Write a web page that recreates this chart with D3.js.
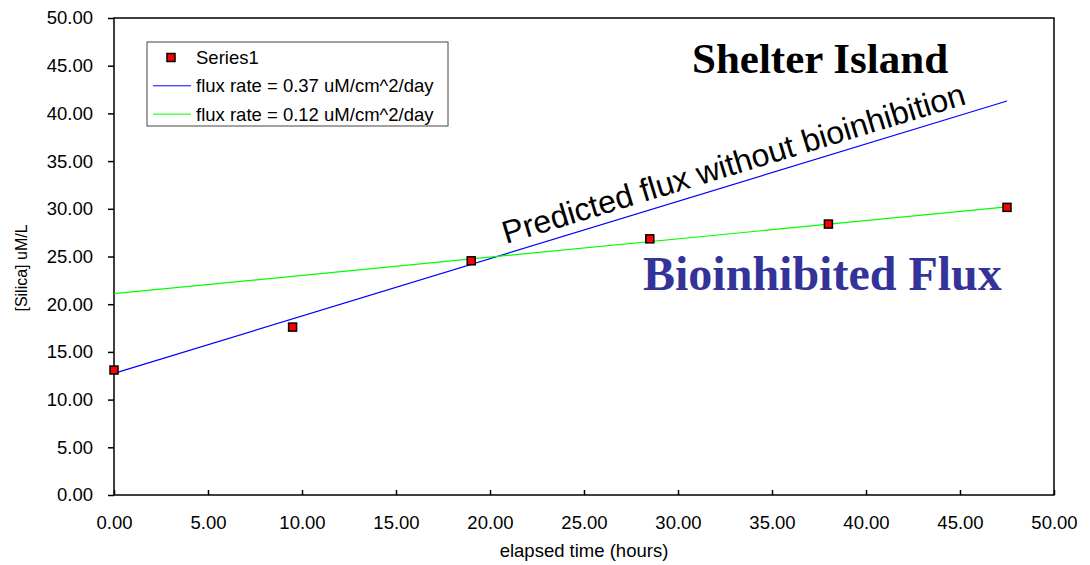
<!DOCTYPE html>
<html lang="en">
  <head>
    <meta charset="UTF-8" />
    <title>Shelter Island silica flux</title>
    <script src="https://d3js.org/d3.v7.min.js"></script>
    <style>
      body {
        margin: 0;
        padding: 0;
        background: #fff;
      }
      svg {
        display: block;
        font-family: "Liberation Sans", Arial, sans-serif;
      }
      .tick text {
        font-size: 18.5px;
        fill: #000;
      }
      .tick line {
        stroke: #000;
        stroke-width: 1.5;
      }
    </style>
  </head>
  <body>
    <svg width="1090" height="565"></svg>
    <script>
      // measured points (elapsed hours, silica uM/L)
      const hours = [0, 9.5, 19, 28.5, 38, 47.5];
      const silica = [13.1, 17.6, 24.55, 26.85, 28.4, 30.15];

      // fitted lines, end points
      const predictedLine = [
        [0, 12.75],
        [47.5, 41.3],
      ];
      const inhibitedLine = [
        [0, 21.1],
        [47.5, 30.2],
      ];

      const xTicks = [0, 5, 10, 15, 20, 25, 30, 35, 40, 45, 50];
      const yTicks = [0, 5, 10, 15, 20, 25, 30, 35, 40, 45, 50];

      const legendItems = [
        { label: "Series1", type: "marker", color: "red" },
        { label: "flux rate = 0.37 uM/cm^2/day", type: "line", color: "#0000ff" },
        { label: "flux rate = 0.12 uM/cm^2/day", type: "line", color: "#00ff00" },
      ];

      const svg = d3.select("svg");
      const plotLeft = 114,
        plotRight = 1054,
        plotTop = 18,
        plotBottom = 495;

      const x = d3.scaleLinear().domain([0, 50]).range([plotLeft, plotRight]);
      const y = d3.scaleLinear().domain([0, 50]).range([plotBottom, plotTop]);
      const fmt = d3.format(".2f");

      // y axis, ticks outside
      const yAxis = svg
        .append("g")
        .attr("transform", `translate(${plotLeft},0)`)
        .call(
          d3
            .axisLeft(y)
            .tickValues(yTicks)
            .tickFormat(fmt)
            .tickSizeInner(6)
            .tickSizeOuter(0)
            .tickPadding(15)
        );
      yAxis.select(".domain").remove();

      // x axis, ticks pointing inward
      const xAxis = svg
        .append("g")
        .attr("transform", `translate(0,${plotBottom})`)
        .call(
          d3
            .axisBottom(x)
            .tickValues(xTicks)
            .tickFormat(fmt)
            .tickSizeInner(-5)
            .tickSizeOuter(0)
            .tickPadding(21)
        );
      xAxis.select(".domain").remove();

      // plot frame
      svg
        .append("rect")
        .attr("x", plotLeft)
        .attr("y", plotTop)
        .attr("width", plotRight - plotLeft)
        .attr("height", plotBottom - plotTop)
        .attr("fill", "none")
        .attr("stroke", "#000")
        .attr("stroke-width", 1.5);

      const line = d3
        .line()
        .x((d) => x(d[0]))
        .y((d) => y(d[1]));

      svg
        .append("path")
        .datum(predictedLine)
        .attr("d", line)
        .attr("fill", "none")
        .attr("stroke", "#0000ff")
        .attr("stroke-width", 1.2);

      svg
        .append("path")
        .datum(inhibitedLine)
        .attr("d", line)
        .attr("fill", "none")
        .attr("stroke", "#00ff00")
        .attr("stroke-width", 1.2);

      const pts = hours.map((h, i) => ({ h: h, s: silica[i] }));
      svg
        .selectAll("rect.pt")
        .data(pts)
        .join("rect")
        .attr("class", "pt")
        .attr("x", (d) => x(d.h) - 4)
        .attr("y", (d) => y(d.s) - 4)
        .attr("width", 8)
        .attr("height", 8)
        .attr("fill", "#ff0000")
        .attr("stroke", "#000")
        .attr("stroke-width", 1.5);

      // axis titles
      svg
        .append("text")
        .attr("x", (plotLeft + plotRight) / 2)
        .attr("y", 557)
        .attr("text-anchor", "middle")
        .attr("font-size", "18.5px")
        .text("elapsed time (hours)");

      svg
        .append("text")
        .attr("transform", "translate(27,268) rotate(-90)")
        .attr("text-anchor", "middle")
        .attr("font-size", "16px")
        .text("[Silica] uM/L");

      // legend
      const lg = svg.append("g").attr("transform", "translate(147,42)");
      lg.append("rect")
        .attr("width", 301)
        .attr("height", 84)
        .attr("fill", "#fff")
        .attr("stroke", "#444")
        .attr("stroke-width", 1);

      legendItems.forEach((d, i) => {
        const cy = 15.5 + i * 28.3;
        if (d.type === "marker") {
          lg.append("rect")
            .attr("x", 20)
            .attr("y", cy - 4)
            .attr("width", 8)
            .attr("height", 8)
            .attr("fill", d.color)
            .attr("stroke", "#000")
            .attr("stroke-width", 1.5);
        } else {
          lg.append("line")
            .attr("x1", 6)
            .attr("x2", 44)
            .attr("y1", cy)
            .attr("y2", cy)
            .attr("stroke", d.color)
            .attr("stroke-width", 1);
        }
        lg.append("text")
          .attr("x", 49)
          .attr("y", cy + 6.5)
          .attr("font-size", "18.5px")
          .text(d.label);
      });

      // annotations
      svg
        .append("text")
        .attr("x", 692)
        .attr("y", 72.5)
        .attr("font-family", '"Liberation Serif", "Times New Roman", serif')
        .attr("font-weight", "bold")
        .attr("font-size", "43px")
        .attr("fill", "#000")
        .text("Shelter Island");

      svg
        .append("text")
        .attr("x", 643)
        .attr("y", 289.5)
        .attr("font-family", '"Liberation Serif", "Times New Roman", serif')
        .attr("font-weight", "bold")
        .attr("font-size", "48px")
        .attr("fill", "#333399")
        .text("Bioinhibited Flux");

      svg
        .append("text")
        .attr("transform", "translate(506,244) rotate(-16.9)")
        .attr("font-size", "32px")
        .attr("fill", "#000")
        .text("Predicted flux without bioinhibition");
    </script>
  </body>
</html>
